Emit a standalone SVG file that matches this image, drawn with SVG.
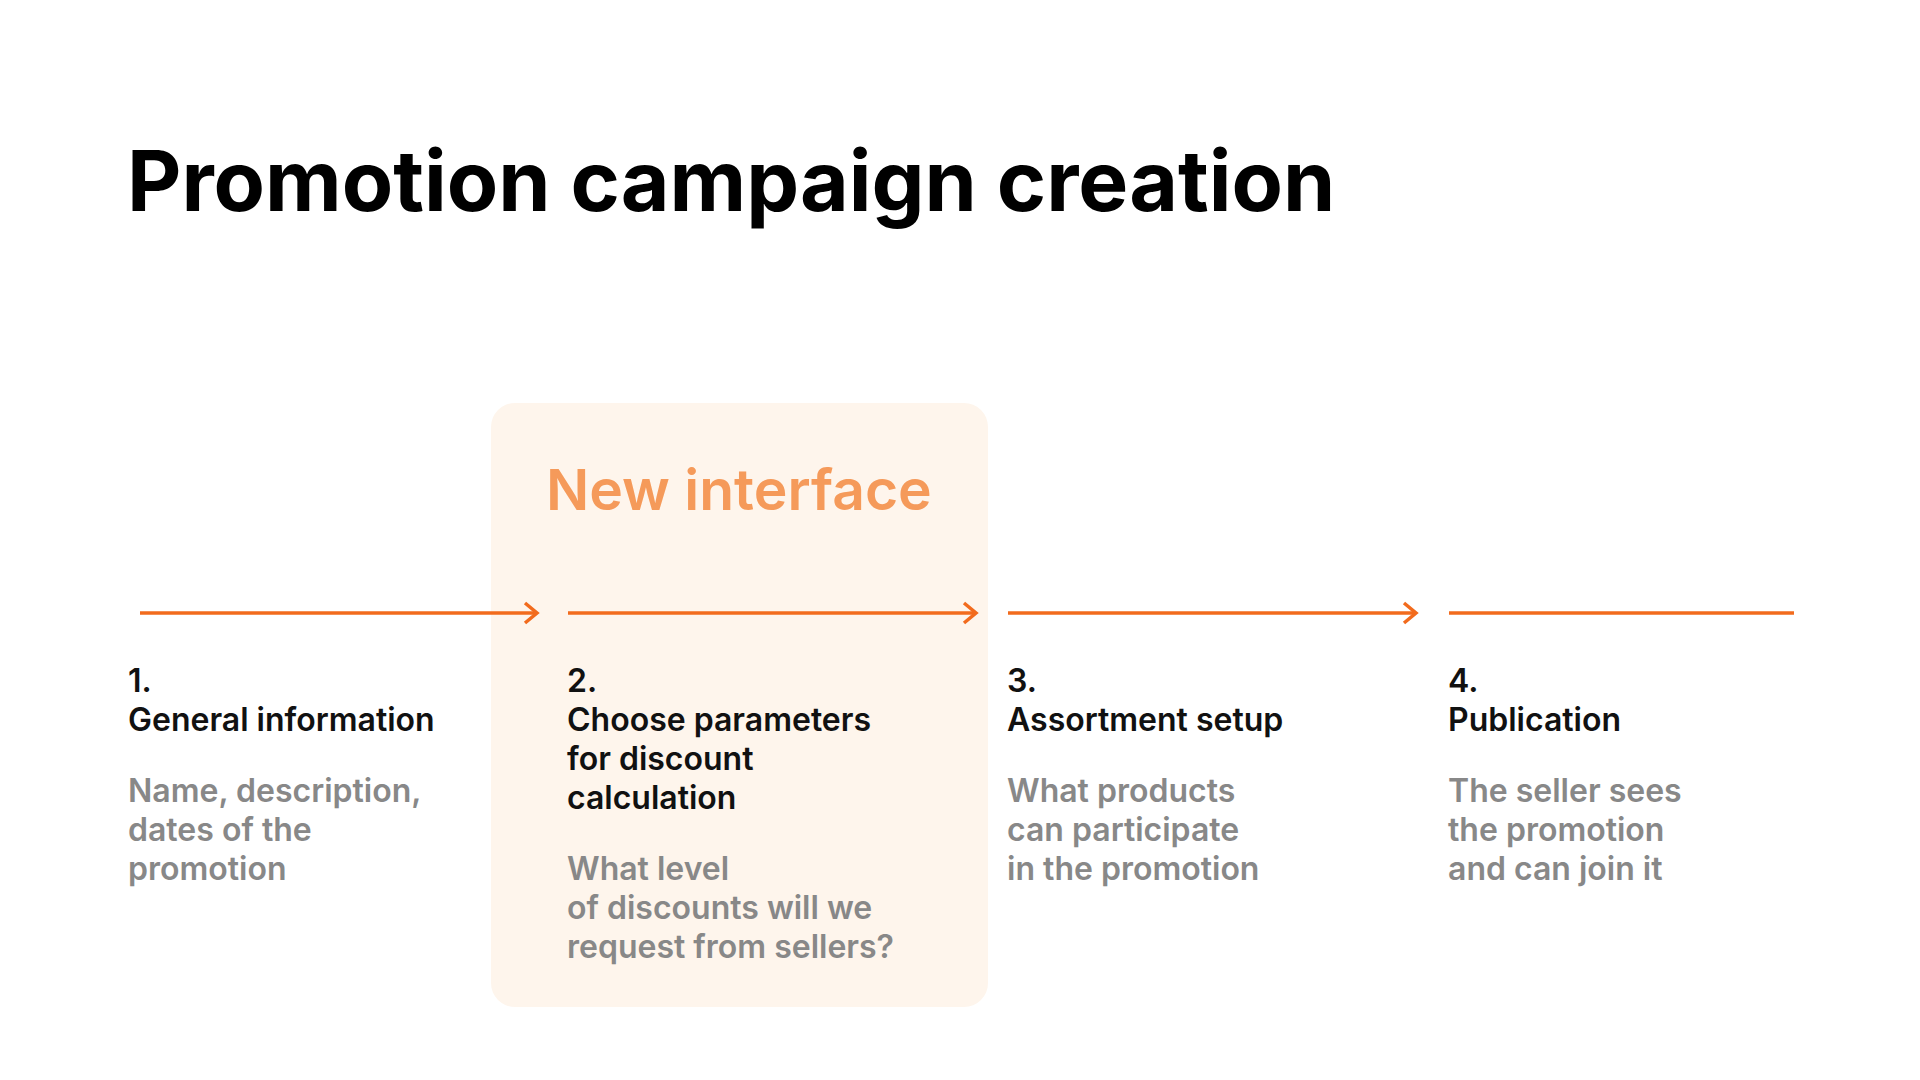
<svg xmlns="http://www.w3.org/2000/svg" width="1920" height="1080" viewBox="0 0 1920 1080">
<style>
text{font-family:Inter,"Noto Sans",sans-serif}
.t{font-size:32px;font-weight:600;fill:#111}
.g{font-size:32px;font-weight:600;fill:#888}
.a{stroke:#F26B1D;stroke-width:3.5;fill:none}
</style>
<defs><marker id="m" markerWidth="20" markerHeight="24" refX="17" refY="12" orient="auto" markerUnits="userSpaceOnUse"><path d="M5,2 L17,12 L5,22" fill="none" stroke="#F26B1D" stroke-width="3.5"/></marker></defs>
<rect width="1920" height="1080" fill="#fff"/>
<text x="127" y="211" font-size="84" font-weight="700" fill="#000">Promotion campaign creation</text>
<g id="box"><rect x="491" y="403" width="497" height="604" rx="24" fill="#FEF5EC"/>
<text x="546" y="510" font-size="57" font-weight="600" fill="#F59A5A">New interface</text></g>
<g id="connectors">
<line class="a" x1="140" y1="613" x2="537" y2="613" marker-end="url(#m)"/>
<line class="a" x1="568" y1="613" x2="976" y2="613" marker-end="url(#m)"/>
<line class="a" x1="1008" y1="613" x2="1416" y2="613" marker-end="url(#m)"/>
<line class="a" x1="1449" y1="613" x2="1794" y2="613"/>
</g>
<g id="s1"><text class="t" x="128" y="692">1.</text><text class="t" x="128" y="731">General information</text>
<text class="g" x="128" y="802">Name, description,</text><text class="g" x="128" y="841">dates of the</text><text class="g" x="128" y="880">promotion</text></g>
<g id="s2"><text class="t" x="567" y="692">2.</text><text class="t" x="567" y="731">Choose parameters</text><text class="t" x="567" y="770">for discount</text><text class="t" x="567" y="809">calculation</text>
<text class="g" x="567" y="880">What level</text><text class="g" x="567" y="919">of discounts will we</text><text class="g" x="567" y="958">request from sellers?</text></g>
<g id="s3"><text class="t" x="1007" y="692">3.</text><text class="t" x="1007" y="731">Assortment setup</text>
<text class="g" x="1007" y="802">What products</text><text class="g" x="1007" y="841">can participate</text><text class="g" x="1007" y="880">in the promotion</text></g>
<g id="s4"><text class="t" x="1448" y="692">4.</text><text class="t" x="1448" y="731">Publication</text>
<text class="g" x="1448" y="802">The seller sees</text><text class="g" x="1448" y="841">the promotion</text><text class="g" x="1448" y="880">and can join it</text></g>
</svg>
